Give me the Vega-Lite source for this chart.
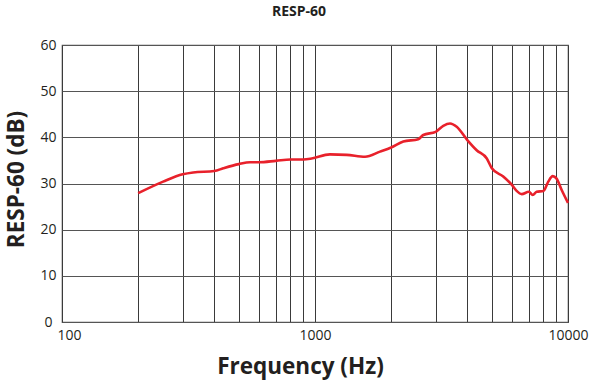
{
  "$schema": "https://vega.github.io/schema/vega-lite/v6.json",
  "autosize": "none",
  "width": 506,
  "height": 277,
  "padding": {"left": 62, "top": 45, "right": 25, "bottom": 61},
  "background": "white",
  "title": {"text": "RESP-60", "font": "Open Sans", "fontSize": 14, "fontWeight": "bold", "color": "#231f20", "anchor": "middle", "dx": -16, "offset": 19},
  "config": {
    "view": {"stroke": "#555555", "strokeWidth": 1.2},
    "axis": {"labelFont": "Open Sans", "titleFont": "Open Sans", "labelColor": "#231f20", "titleColor": "#231f20"}
  },
  "data": {"values": [
    {"f": 200, "db": 27.9},
    {"f": 251, "db": 30.4},
    {"f": 300, "db": 32.0},
    {"f": 330, "db": 32.4},
    {"f": 400, "db": 32.7},
    {"f": 434, "db": 33.3},
    {"f": 500, "db": 34.2},
    {"f": 554, "db": 34.6},
    {"f": 600, "db": 34.6},
    {"f": 700, "db": 34.9},
    {"f": 800, "db": 35.2},
    {"f": 900, "db": 35.2},
    {"f": 970, "db": 35.4},
    {"f": 1145, "db": 36.3},
    {"f": 1334, "db": 36.2},
    {"f": 1577, "db": 35.8},
    {"f": 1807, "db": 36.9},
    {"f": 2000, "db": 37.8},
    {"f": 2234, "db": 39.1},
    {"f": 2559, "db": 39.6},
    {"f": 2680, "db": 40.5},
    {"f": 3000, "db": 41.2},
    {"f": 3214, "db": 42.5},
    {"f": 3417, "db": 43.0},
    {"f": 3631, "db": 42.3},
    {"f": 4000, "db": 39.4},
    {"f": 4355, "db": 37.2},
    {"f": 4776, "db": 35.4},
    {"f": 5000, "db": 33.3},
    {"f": 5546, "db": 31.5},
    {"f": 6000, "db": 29.7},
    {"f": 6266, "db": 28.4},
    {"f": 6561, "db": 27.7},
    {"f": 7000, "db": 28.2},
    {"f": 7254, "db": 27.5},
    {"f": 7516, "db": 28.2},
    {"f": 8000, "db": 28.4},
    {"f": 8356, "db": 30.4},
    {"f": 8701, "db": 31.6},
    {"f": 9000, "db": 31.1},
    {"f": 9441, "db": 28.6},
    {"f": 10000, "db": 25.8}
  ]},
  "mark": {"type": "line", "color": "#e8212b", "strokeWidth": 2.6, "interpolate": "monotone"},
  "encoding": {
    "x": {
      "field": "f", "type": "quantitative",
      "scale": {"type": "log", "domain": [100, 10000], "nice": false},
      "axis": {
        "title": "Frequency (Hz)", "titleFontSize": 22.5, "titleFontWeight": "bold", "titlePadding": 13, "titleX": 238,
        "values": [100, 200, 300, 400, 500, 600, 700, 800, 900, 1000, 2000, 3000, 4000, 5000, 6000, 7000, 8000, 9000, 10000],
        "labelExpr": "(datum.value == 100 || datum.value == 1000 || datum.value == 10000) ? datum.value : ''",
        "labelFontSize": 14, "labelPadding": 6, "labelFlush": false, "labelOverlap": false,
        "labelOffset": {"condition": {"test": "datum.value == 100", "value": 7}, "value": 0},
        "ticks": false, "domain": false,
        "grid": true, "gridColor": "#3a3a3a", "gridWidth": 1, "gridOpacity": 1
      }
    },
    "y": {
      "field": "db", "type": "quantitative",
      "scale": {"domain": [0, 60], "nice": false},
      "axis": {
        "title": "RESP-60 (dB)", "titleFontSize": 22.5, "titleFontWeight": "bold", "titlePadding": 11, "titleY": 134,
        "values": [0, 10, 20, 30, 40, 50, 60],
        "labelFontSize": 14,
        "labelPadding": {"condition": {"test": "datum.value == 0", "value": 10}, "value": 6},
        "ticks": false, "domain": false,
        "grid": true, "gridColor": "#555555", "gridWidth": 1.2, "gridOpacity": 1
      }
    }
  }
}
